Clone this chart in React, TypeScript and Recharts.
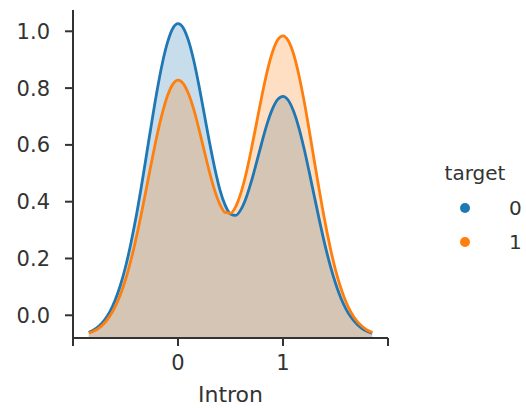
import React from 'react';
import { AreaChart, Area, XAxis, YAxis } from 'recharts';

// kde estimate of "Intron" split by target
const xs = [
  -0.85, -0.8, -0.75, -0.7, -0.65, -0.6, -0.55, -0.5, -0.45, -0.4, -0.35, -0.3, -0.25, -0.2, -0.15, -0.1, -0.05,
  0, 0.05, 0.1, 0.15, 0.2, 0.25, 0.3, 0.35, 0.4, 0.45, 0.5, 0.55, 0.6, 0.65, 0.7, 0.75, 0.8, 0.85, 0.9, 0.95,
  1, 1.05, 1.1, 1.15, 1.2, 1.25, 1.3, 1.35, 1.4, 1.45, 1.5, 1.55, 1.6, 1.65, 1.7, 1.75, 1.8, 1.85,
];

const target0 = [
  -0.06, -0.051, -0.037, -0.017, 0.012, 0.052, 0.104, 0.17, 0.251, 0.345, 0.451, 0.565, 0.68, 0.79, 0.886, 0.961, 1.01,
  1.027, 1.012, 0.967, 0.897, 0.808, 0.709, 0.609, 0.518, 0.441, 0.387, 0.357, 0.352, 0.373, 0.415, 0.473, 0.541, 0.611, 0.676, 0.727, 0.76,
  0.771, 0.757, 0.719, 0.662, 0.588, 0.504, 0.416, 0.329, 0.247, 0.175, 0.113, 0.062, 0.022, -0.008, -0.03, -0.046, -0.056, -0.063,
];

const target1 = [
  -0.062, -0.055, -0.044, -0.027, -0.003, 0.029, 0.071, 0.125, 0.192, 0.269, 0.356, 0.449, 0.543, 0.633, 0.711, 0.773, 0.813,
  0.828, 0.816, 0.78, 0.725, 0.655, 0.579, 0.504, 0.439, 0.39, 0.362, 0.36, 0.383, 0.432, 0.501, 0.587, 0.681, 0.775, 0.86, 0.927, 0.97,
  0.984, 0.967, 0.921, 0.848, 0.756, 0.651, 0.54, 0.431, 0.329, 0.238, 0.16, 0.097, 0.047, 0.009, -0.019, -0.038, -0.052, -0.06,
];

const targets = ['0', '1'];
const xTicks = [-1, 0, 1, 2];
const xTickLabels = ['', '0', '1', ''];
const yTicks = [0, 0.2, 0.4, 0.6, 0.8, 1.0];

const Y_MIN = -0.08;
const Y_MAX = 1.075;

const COLORS = ['#1f77b4', '#ff7f0e'];
const INK = '#333333';
const FONT = 'DejaVu Sans';

const data = xs.map((x, i) => ({ x, t0: target0[i], t1: target1[i] }));

function TargetLegend() {
  return (
    <svg width={96} height={120} style={{ position: 'absolute', left: 430, top: 150 }}>
      <text x={45} y={30} textAnchor="middle" fontSize={20} fill={INK} fontFamily={FONT}>
        target
      </text>
      {targets.map((t, i) => (
        <g key={t}>
          <circle cx={35} cy={58 + i * 34} r={5} fill={COLORS[i]} />
          <text x={79} y={65 + i * 34} fontSize={20} fill={INK} fontFamily={FONT}>
            {t}
          </text>
        </g>
      ))}
    </svg>
  );
}

export default function App() {
  return (
    <div style={{ position: 'absolute', left: 0, top: 0, width: 526, height: 408, background: '#fff' }}>
      <AreaChart width={526} height={408} data={data} margin={{ top: 10, right: 138, bottom: 0, left: 0 }}>
        <XAxis
          dataKey="x"
          type="number"
          domain={[-1, 2]}
          ticks={xTicks}
          tickFormatter={(v) => xTickLabels[xTicks.indexOf(v)] ?? ''}
          allowDataOverflow
          height={70}
          tickSize={8}
          tickMargin={9}
          axisLine={{ stroke: INK, strokeWidth: 2 }}
          tickLine={{ stroke: INK, strokeWidth: 2 }}
          tick={{ fill: INK, fontSize: 21, fontFamily: FONT }}
          label={{ value: 'Intron', position: 'insideBottom', offset: 6, fill: INK, fontSize: 22, fontFamily: FONT }}
        />
        <YAxis
          type="number"
          domain={[Y_MIN, Y_MAX]}
          ticks={yTicks}
          tickFormatter={(v) => Number(v).toFixed(1)}
          allowDataOverflow
          width={73}
          tickSize={8}
          tickMargin={15}
          axisLine={{ stroke: INK, strokeWidth: 2 }}
          tickLine={{ stroke: INK, strokeWidth: 2 }}
          tick={{ fill: INK, fontSize: 21, fontFamily: FONT }}
        />
        {/* shaded fills first, then the outlines on top (like matplotlib zorder) */}
        {targets.map((t, i) => (
          <Area
            key={`fill-${t}`}
            type="monotone"
            dataKey={`t${t}`}
            stroke="none"
            fill={COLORS[i]}
            fillOpacity={0.25}
            baseValue={Y_MIN}
            dot={false}
            activeDot={false}
            isAnimationActive={false}
          />
        ))}
        {targets.map((t, i) => (
          <Area
            key={`line-${t}`}
            type="monotone"
            dataKey={`t${t}`}
            name={t}
            stroke={COLORS[i]}
            strokeWidth={2.8}
            fill="none"
            baseValue={Y_MIN}
            dot={false}
            activeDot={false}
            isAnimationActive={false}
          />
        ))}
      </AreaChart>
      <TargetLegend />
    </div>
  );
}
